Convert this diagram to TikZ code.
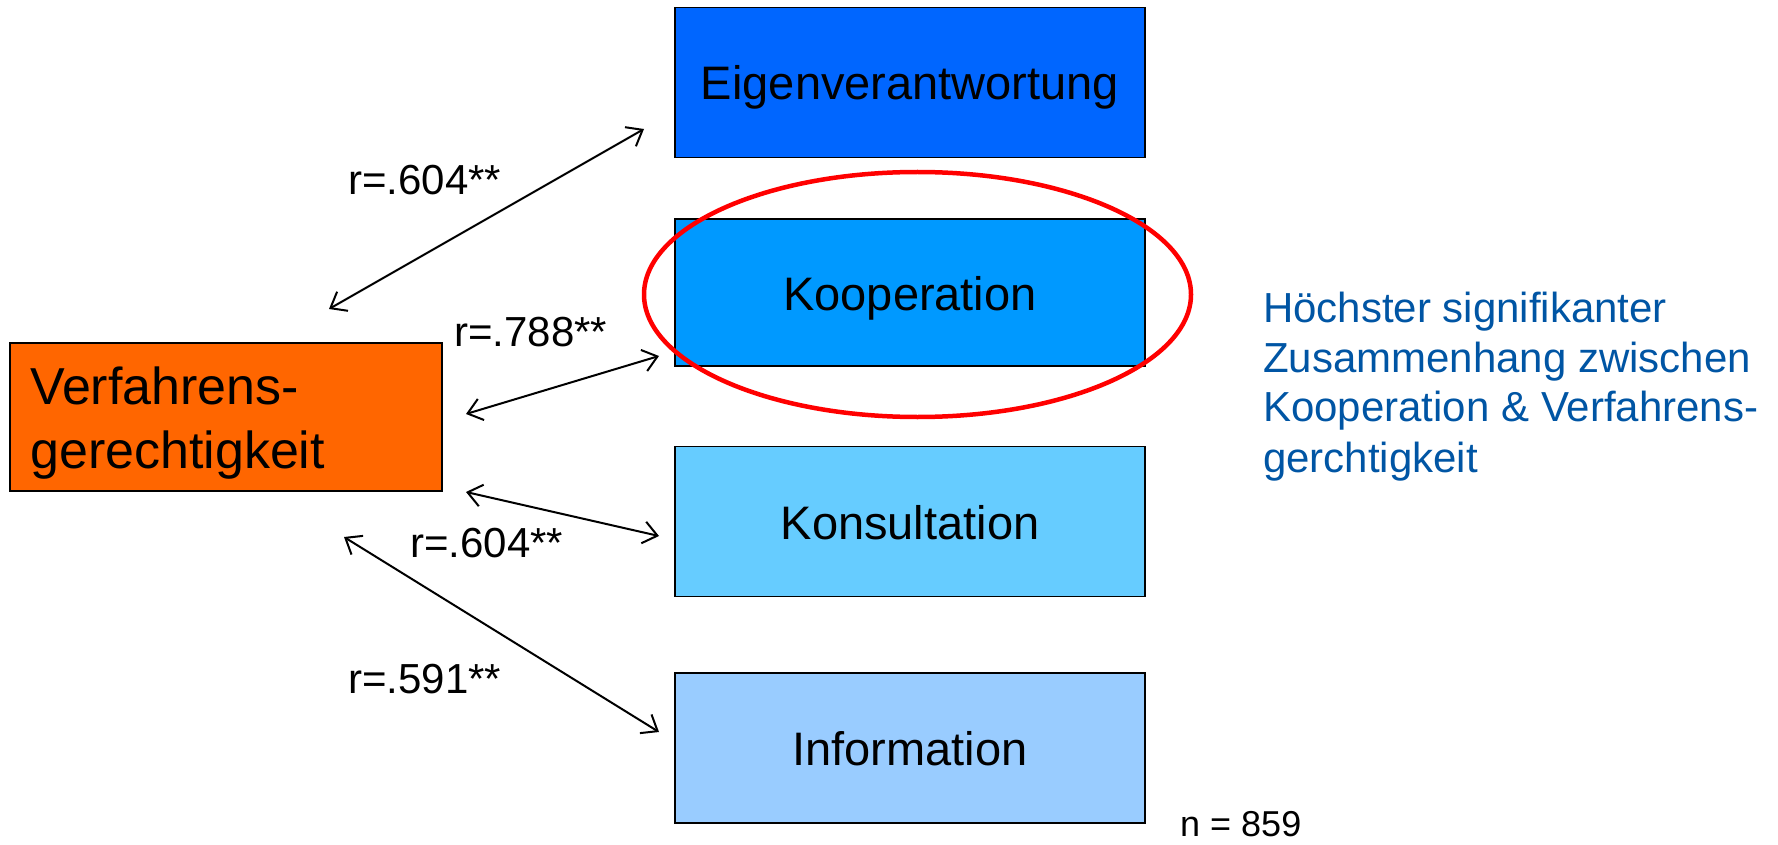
\documentclass[tikz,border=0pt]{standalone}
\usepackage{fontspec}
\setmainfont{Liberation Sans}
\usetikzlibrary{arrows.meta}
\definecolor{eigblue}{HTML}{0066FF}
\definecolor{koopblue}{HTML}{0099FF}
\definecolor{konsblue}{HTML}{66CCFF}
\definecolor{infoblue}{HTML}{99CCFF}
\definecolor{verforange}{HTML}{FF6600}
\definecolor{notetext}{HTML}{0055A4}
\begin{document}
\begin{tikzpicture}[x=1pt,y=-1pt,
  levelbox/.style={draw=black, line width=1.5pt, minimum width=470pt,
    minimum height=150pt, inner sep=0pt, text height=35pt, text depth=0pt,
    font=\fontsize{47}{56}\selectfont},
  corr/.style={draw=black, line width=2pt, <->,
    >={Straight Barb[length=14pt,width=22pt]}},
  rlabel/.style={anchor=base west, inner sep=0pt,
    font=\fontsize{42}{50}\selectfont}]
\useasboundingbox (0,0) rectangle (1778,845);

% participation levels
\node[levelbox, fill=eigblue] (eig) at (910,82.5) {Eigenverantwortung};
\node[levelbox, fill=koopblue, minimum height=147pt] (koop) at (910,292.5) {Kooperation};
\node[levelbox, fill=konsblue] (kons) at (910,521.5) {Konsultation};
\node[levelbox, fill=infoblue] (info) at (910,748) {Information};

% procedural justice
\node[draw=black, line width=1.5pt, fill=verforange, minimum width=432pt,
  minimum height=148pt, inner sep=0pt] (verf) at (226,417) {};
\node[anchor=base west, inner sep=0pt, font=\fontsize{52}{64}\selectfont]
  (verftxt) at (30,404) {\begin{tabular}[t]{@{}l@{}}Verfahrens-\\gerechtigkeit\end{tabular}};

% highlight of the strongest correlation
\draw[red, line width=4.5pt] (917.5,294.5) ellipse [x radius=273.5pt, y radius=122.5pt];

% correlation arrows
\coordinate (e1) at (644,129);  \coordinate (v1) at (329,309);
\coordinate (e2) at (659,356);  \coordinate (v2) at (466,414);
\coordinate (e3) at (659,536);  \coordinate (v3) at (466,492);
\coordinate (e4) at (659,732);  \coordinate (v4) at (344,537);
\draw[corr] (v1) -- (e1);
\draw[corr] (v2) -- (e2);
\draw[corr] (v3) -- (e3);
\draw[corr] (v4) -- (e4);

\node[rlabel] (r1) at (348,195) {r=.604**};
\node[rlabel] (r2) at (454,346) {r=.788**};
\node[rlabel] (r3) at (410,557) {r=.604**};
\node[rlabel] (r4) at (348,693) {r=.591**};

% note and sample size
\node[anchor=base west, inner sep=0pt, text=notetext, font=\fontsize{42}{50}\selectfont]
  (note) at (1263,322) {\begin{tabular}[t]{@{}l@{}}Höchster signifikanter\\Zusammenhang zwischen\\Kooperation \& Verfahrens-\\gerchtigkeit\end{tabular}};
\node[anchor=base west, inner sep=0pt, font=\fontsize{36}{43}\selectfont]
  (n) at (1180,836) {n = 859};
\end{tikzpicture}
\end{document}
